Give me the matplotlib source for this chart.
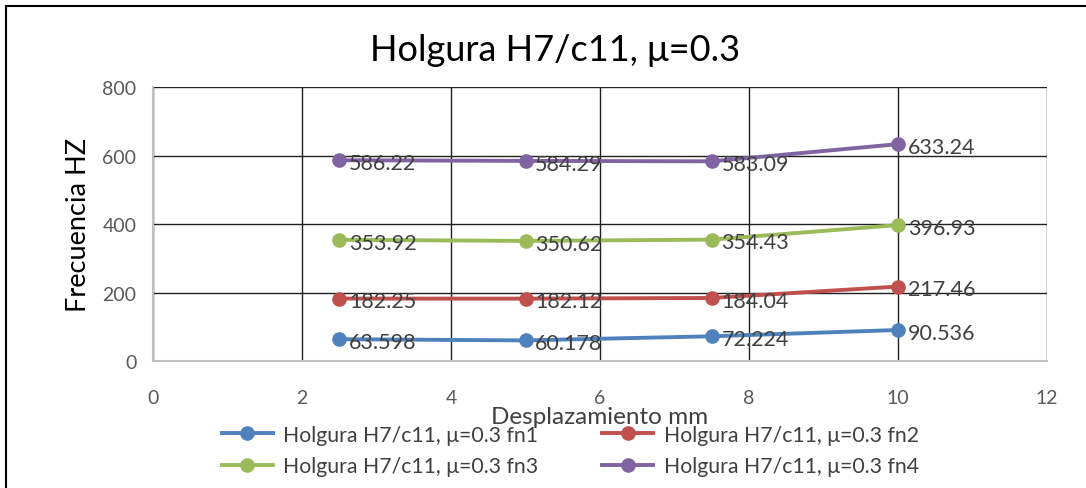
import matplotlib
matplotlib.use("Agg")
import matplotlib.pyplot as plt
from matplotlib.lines import Line2D

plt.rcParams['font.family'] = ['Lato', 'DejaVu Sans']

## datos
desplazamiento = [2.5, 5, 7.5, 10]
fn1 = [63.598, 60.178, 72.224, 90.536]
fn2 = [182.25, 182.12, 184.04, 217.46]
fn3 = [353.92, 350.62, 354.43, 396.93]
fn4 = [586.22, 584.29, 583.09, 633.24]
etiquetas = ["63.598", "60.178", "72.224", "90.536"], \
            ["182.25", "182.12", "184.04", "217.46"], \
            ["353.92", "350.62", "354.43", "396.93"], \
            ["586.22", "584.29", "583.09", "633.24"]
nombres = ["Holgura H7/c11, μ=0.3 fn1", "Holgura H7/c11, μ=0.3 fn2",
           "Holgura H7/c11, μ=0.3 fn3", "Holgura H7/c11, μ=0.3 fn4"]
colores = ["#4F81BD", "#C0504D", "#9BBB59", "#8064A2"]

fig = plt.figure(figsize=(10.86, 4.89), dpi=100)
ax = fig.add_axes([0.1409, 0.2597, 0.8232, 0.5603])

# marco del grafico (solo arriba e izquierda visibles)
fig.add_artist(Line2D([6/1086, 6/1086], [0, 1 - 7/489], color="black", lw=1.5, transform=fig.transFigure))
fig.add_artist(Line2D([6/1086, 1], [1 - 7/489, 1 - 7/489], color="black", lw=1.5, transform=fig.transFigure))

series = [fn1, fn2, fn3, fn4]
handles = []
for serie, etq, nombre, cor in zip(series, etiquetas, nombres, colores):
    h, = ax.plot(desplazamiento, serie, color=cor, lw=2.8, marker="o", markersize=9.5,
                 label=nombre, zorder=3)
    handles.append(h)
    for x, y, t in zip(desplazamiento, serie, etq):
        ax.annotate(t, (x, y), xytext=(7, -2), textcoords="offset points",
                    ha="left", va="center", fontsize=15.5, color="#404040", zorder=4)

ax.set_xlim(0, 12)
ax.set_ylim(0, 800)
ax.set_xticks(range(0, 13, 2))
ax.set_yticks(range(0, 801, 200))
ax.grid(True, color="#202020", lw=1.0)
ax.set_axisbelow(True)
for s in ["top", "right"]:
    ax.spines[s].set_visible(False)
for s in ["left", "bottom"]:
    ax.spines[s].set_color("#BFBFBF")
    ax.spines[s].set_linewidth(1.5)
ax.tick_params(length=0, labelsize=14, labelcolor="#595959")
ax.tick_params(axis="x", pad=20)
ax.tick_params(axis="y", pad=12)

ax.set_ylabel("Frecuencia HZ", fontsize=19.5, color="black", labelpad=8)
ax.set_xlabel("Desplazamiento mm", fontsize=17.5, color="#404040", labelpad=0)
fig.text(0.511, 0.897, "Holgura H7/c11, μ=0.3", ha="center", va="center", fontsize=26)

# orden de la leyenda por filas: fn1 fn2 / fn3 fn4
orden = [0, 2, 1, 3]
fig.legend(handles=[handles[i] for i in orden], loc="center", bbox_to_anchor=(0.525, 0.077), ncol=2,
           frameon=False, fontsize=15.3, labelcolor="#404040", handlelength=2.4,
           columnspacing=3.0, handletextpad=0.5, labelspacing=0.55)

fig.savefig("out.png", dpi=100)
